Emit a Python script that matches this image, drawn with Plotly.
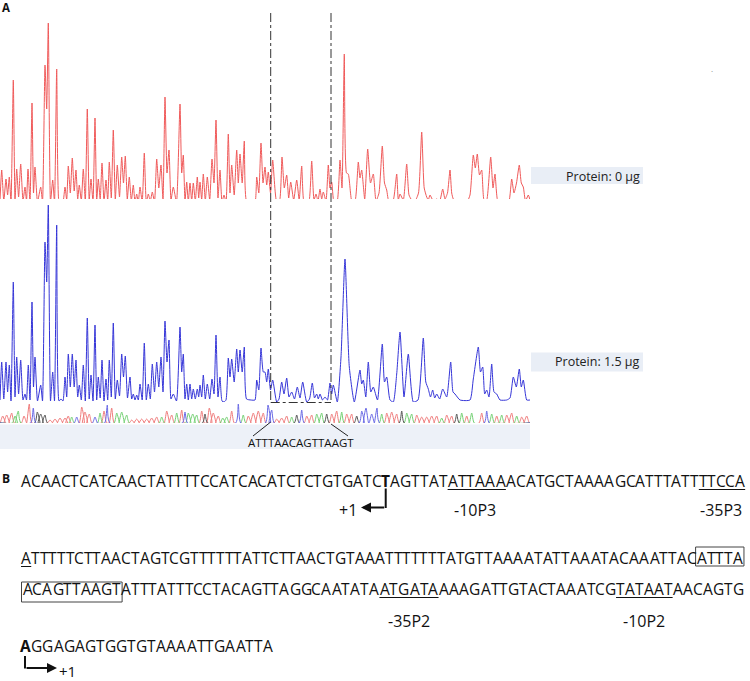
import plotly.graph_objects as go

W, H = 750, 681

# ---------------- data ----------------
# electropherogram, 0 ug protein (scan position, signal)
red_trace = [(0,3),(1.7,33),(3.8,2),(6,24),(7.6,8),(9.3,26),(11,1),(13.3,123),(15,3),(16.7,34),(18.6,6),(20.7,39),(23,2),(25,16),(26.5,2),(28,34),(30,1),(32,100),(33.5,10),(35,36),(37.5,1),(40.7,16),(42.5,1),(45,138),(46.7,94),(48.3,180),(50.5,1),(52.7,23),(54.5,1),(56.7,134),(59,1),(61,4),(63,1),(65,16),(66.7,3),(68.3,37),(70.3,10),(72.3,45),(74.2,12),(76,33),(77.7,4),(79.3,18),(81.3,2),(83.3,34),(85.3,1),(87.3,94),(89.2,3),(91,24),(93,1),(95,85),(96.7,2),(98.3,24),(100.2,4),(102,40),(104,1),(106,23),(107.7,2),(109.3,41),(111.3,5),(113.3,73),(115.3,3),(117.3,38),(119.5,6),(121.7,46),(123.5,20),(125.3,47),(127.3,4),(129.3,26),(131.3,2),(133.3,18),(135,1),(136.7,9),(138.3,1),(140,16),(142.2,1),(144.3,50),(146.3,1),(148.3,9),(150.3,2),(152.3,11),(154.5,1),(156.7,44),(158.8,15),(161,38),(163,3),(165,106),(167,30),(169,53),(171,3),(173.3,16),(176.5,1),(180,99),(181.7,30),(183.3,48),(185,2),(186.7,21),(188.3,1),(190,20),(191.7,2),(193.3,20),(195.3,2),(197.3,26),(198.7,5),(200,21),(201.7,3),(203.3,29),(205.3,2),(207.3,26),(209.7,3),(212,44),(214,20),(216,83),(218,5),(220,33),(222,1),(224,8),(226,1),(228.3,69),(230,10),(231.7,38),(234.2,8),(236.7,53),(238.3,20),(240,49),(242.2,20),(244.3,62),(246.5,2),(251,1),(255,1),(256.7,26),(258.8,10),(261,60),(263,20),(265,36),(266.7,18),(268.3,31),(270.5,10),(272.7,43),(276.7,1),(279.5,2),(282,46),(284.3,15),(286.7,28),(288.7,5),(290.7,21),(293.7,3),(296.7,23),(299.2,3),(301.7,37),(304,1),(306.7,1),(309,2),(311.7,42),(314,3),(316,9),(318,2),(320,14),(321.7,4),(323.3,11),(326,2),(328.3,38),(330,15),(331.7,21),(334,1),(337,1),(340,43),(342,15),(344.3,149),(346.5,30),(348.3,29),(352,1),(355,2),(358.3,41),(360,25),(361.7,33),(364.7,4),(367.7,54),(370.5,20),(373.3,29),(376,2),(379,10),(382.3,57),(384.5,20),(386.7,13),(389,1),(393,2),(396.7,29),(398.3,3),(400,9),(403.3,3),(406.7,39),(409,8),(411.7,3),(415,2),(418.5,10),(421.7,71),(424.2,15),(426.7,6),(428.3,3),(430,8),(433.3,2),(436.7,4),(439.7,2),(442.7,14),(445,4),(447.5,10),(450,33),(451.7,10),(453.3,4),(456.7,1),(460,3),(463,1),(467,1),(470,8),(473.3,48),(475.3,35),(477.3,49),(479.5,28),(481.7,33),(484,3),(486.5,2),(490.7,46),(493,15),(495,29),(497.5,3),(500,1),(503,2),(506.7,3),(509,2),(511.7,24),(514,10),(516.5,20),(519.3,38),(521.3,20),(523.3,16),(525.5,2),(528.3,8),(530,3)]

# electropherogram, 1.5 ug protein
blue_trace = [(0,2),(1.7,40),(3.8,3),(6,40),(7.6,10),(9.3,37),(11,1),(13.3,120),(15,5),(16.7,45),(18.6,8),(20.7,42),(23,2),(25,8),(26.5,2),(28.3,37),(30,2),(32,100),(33.5,15),(35,45),(37.5,1),(40.7,17),(42.5,1),(45,160),(46.7,120),(48.3,197),(50.5,1),(52.7,30),(54.5,1),(56.7,177),(59,1),(61,3),(63,1),(65,25),(66.7,5),(68.3,48),(70.3,15),(72.3,48),(74.2,15),(76,42),(77.7,5),(79.3,17),(81.3,2),(83.3,37),(85.3,1),(87.3,84),(89.2,3),(91,27),(93,1),(95,77),(96.7,2),(98.3,25),(100.2,4),(102,42),(104,1),(106,23),(107.7,2),(109.3,42),(111.3,5),(113.3,79),(115.3,3),(117.3,22),(119.5,6),(121.7,48),(123.5,25),(125.3,46),(127.5,4),(130,25),(131.7,3),(133.3,8),(135,2),(136.7,7),(138.3,2),(140,18),(142.2,2),(144.3,59),(146.3,2),(148.3,18),(150.3,3),(152.3,38),(154.5,10),(156.7,40),(158.8,15),(161,45),(163,10),(165,81),(167,40),(169,62),(171,3),(173.3,8),(176.5,1),(180,75),(181.7,30),(183.3,48),(185,3),(186.7,18),(188.3,2),(190,18),(191.7,3),(193.3,13),(195.3,3),(197.3,13),(198.7,5),(200,17),(201.7,5),(203.3,27),(205.3,3),(207.3,18),(209.7,3),(212,23),(214,8),(216,67),(218,5),(220,25),(222,1),(224,0),(226,2),(228.3,44),(230,25),(231.7,43),(234.2,20),(236.7,53),(238.3,30),(240,52),(242.2,30),(244.3,55),(246.5,3),(251,2),(255,2),(256.7,22),(258.8,12),(261,54),(263.3,30),(265,30),(266.7,20),(268.3,33),(270.5,12),(272.7,22),(276.7,0),(279,3),(281.7,20),(284,8),(286.7,24),(289,5),(291.7,10),(294.5,3),(297.3,15),(300,4),(302.7,20),(306.7,0),(309.5,3),(312.3,19),(314.5,4),(316.7,8),(318.3,3),(320,8),(322.5,2),(325,5),(327.5,2),(330,19),(331.7,8),(333.3,17),(337.3,0),(341,45),(345,143),(349.3,35),(354.3,0),(360,32),(361.7,18),(363.3,22),(365.8,5),(368.3,40),(370.8,10),(373.3,15),(377.5,2),(382.3,58),(384.5,20),(386.7,25),(390,2),(393.3,0),(396.7,28),(400,70),(404,5),(408.3,48),(413.3,0),(418,2),(423.3,64),(425.8,20),(428.3,13),(430.5,5),(432.7,12),(434.7,4),(436.7,8),(439.7,3),(442.7,13),(446.7,5),(450.7,40),(453,10),(455,8),(460,2),(470,2),(473.3,23),(478.3,55),(480.5,30),(482.7,35),(484.7,8),(486.7,12),(489,5),(491.7,38),(494,10),(496.7,8),(500,2),(506.7,2),(510,4),(513.3,25),(516.3,15),(519.3,33),(521.3,15),(523.3,22),(526.7,2),(530,2)]

# sequencing ladder peaks (position, height) per dye
ladder_red = [(2.7,7),(6.7,8),(11.7,10),(24,7),(29.3,19),(50,3),(55,4),(60,5),(65,5),(68.3,7),(81.7,16),(85,11),(89.3,9),(104,12),(111.7,15),(131.7,3),(136.7,4),(141.7,4),(146.7,4),(151.7,5),(156.7,6),(166.7,12),(171.7,8),(181.7,13),(201.7,12),(209.3,15),(213.3,10),(218.3,7),(231.7,12),(248.3,7),(253.3,10),(258.3,12),(263.3,10),(276.7,4),(281.7,5),(286.7,7),(306.7,7),(311.7,8),(331.7,9),(336.7,12),(346.7,9),(351.7,9),(386.7,10),(391.7,11),(396.7,9),(416.7,8),(421.7,6),(426.7,6),(431.7,7),(436.7,7),(446.7,8),(451.7,7),(466.7,7),(481.7,10),(496.7,7),(506.7,8),(511.7,10),(521.7,6),(526.7,7)]
ladder_green = [(15,7),(18.3,12),(71.7,6),(100,10),(116.7,10),(121.7,11),(126.7,8),(161.7,6),(176.7,10),(188.3,10),(192.7,9),(196.7,8),(222.7,5),(226.7,6),(243.3,8),(291.7,6),(316.7,9),(321.7,10),(341.7,11),(381.7,9),(406.7,10),(411.7,9),(441.7,5),(461.7,10),(471.7,10),(491.7,9),(501.7,8),(516.7,7)]
ladder_blue = [(33.3,15),(76.7,6),(95,6),(107.3,18),(185,11),(238.3,19),(268,18),(271.7,13),(301.7,13),(361.7,12),(366,15),(371.7,9),(377,15),(486.7,12)]
ladder_black = [(37.3,11),(40.7,9),(45,8),(205,9),(296.7,8),(326.7,9),(356.7,7),(401.7,12),(456.7,9)]

footprint = [270.7, 331.0]          # protected region (scan positions)
footprint_seq = "ATTTAACAGTTAAGT"
sample_labels = ["Protein: 0 µg", "Protein: 1.5 µg"]

seq_lines = [
    "ACAACTCATCAACTATTTTCCATCACATCTCTGTGATCTAGTTATATTAAAACATGCTAAAAGCATTTATTTTCCA",
    "ATTTTTCTTAACTAGTCGTTTTTTATTCTTAACTGTAAATTTTTTTATGTTAAAATATTAAATACAAATTACATTTA",
    "ACAGTTAAGTATTTATTTCCTACAGTTAGGCAATATAATGATAAAAGATTGTACTAAATCGTATAATAACAGTG",
    "AGGAGAGTGGTGTAAAATTGAATTA",
]
seq_bold = [[38], [], [], [0]]
seq_underline = [[(45, 51), (71, 76)], [(0, 1)], [(37, 43), (61, 67)], []]
seq_box = [[], [(72, 77)], [(0, 10)], []]
element_labels = [("-10P3", 0, 48), ("-35P3", 0, 73.5), ("-35P2", 2, 40), ("-10P2", 2, 64)]

# ---------------- layout helpers ----------------
def PX(x):
    return x / W

def PY(y):
    return 1 - y / H

XMAX = 530
fig = go.Figure()

def xy(pairs):
    return [p for p, _ in pairs], [v for _, v in pairs]

x, y = xy(red_trace)
fig.add_trace(go.Scatter(x=x, y=y, mode="lines", line=dict(color="#F05A5A", width=1, shape="spline", smoothing=0.5),
                         xaxis="x", yaxis="y"))
x, y = xy(blue_trace)
fig.add_trace(go.Scatter(x=x, y=y, mode="lines", line=dict(color="#3535D8", width=1, shape="spline", smoothing=0.5),
                         xaxis="x", yaxis="y2"))

def ladder(peaks):
    xs, ys = [0], [0]
    for p, h in peaks:
        xs += [p - 2.6, p, p + 2.6]
        ys += [0, h, 0]
    xs.append(XMAX); ys.append(0)
    return xs, ys

for peaks, col in [(ladder_red, "#F07C7C"), (ladder_green, "#72D072"),
                   (ladder_black, "#555555"), (ladder_blue, "#6A6AE6")]:
    lx, ly = ladder(peaks)
    fig.add_trace(go.Scatter(x=lx, y=ly, mode="lines", line=dict(color=col, width=1, shape="spline", smoothing=0.6),
                             xaxis="x", yaxis="y3"))

ax_off = dict(visible=False, showgrid=False, zeroline=False, fixedrange=True)
fig.update_layout(
    width=W, height=H, margin=dict(l=0, r=0, t=0, b=0),
    paper_bgcolor="white", plot_bgcolor="white", showlegend=False,
    font=dict(family="Open Sans", color="#111"),
    xaxis=dict(domain=[0, PX(XMAX)], range=[0, XMAX], anchor="y", **ax_off),
    yaxis=dict(domain=[PY(203), PY(0)], range=[0, 203], anchor="x", **ax_off),
    yaxis2=dict(domain=[PY(402), PY(199)], range=[0, 203], anchor="x", **ax_off),
    yaxis3=dict(domain=[PY(423), PY(400)], range=[0, 23], anchor="x", **ax_off),
)

shapes = []
annots = []

# grey band under ladder
shapes.append(dict(type="rect", xref="x", yref="paper", x0=0, x1=XMAX, y0=PY(449), y1=PY(424.5),
                   fillcolor="#EDF1F8", line=dict(width=0), layer="below"))
# footprint dash-dot lines
for fx in footprint:
    shapes.append(dict(type="line", xref="x", yref="paper", x0=fx, x1=fx, y0=PY(13), y1=PY(402.5),
                       line=dict(color="#333", width=1, dash="dashdot")))
shapes.append(dict(type="line", xref="x", yref="paper", x0=footprint[0], x1=footprint[1], y0=PY(402.5), y1=PY(402.5),
                   line=dict(color="#333", width=1, dash="dashdot")))
# leader lines to protected sequence label
shapes.append(dict(type="line", xref="x", yref="paper", x0=253, x1=footprint[0], y0=PY(436), y1=PY(422),
                   line=dict(color="#222", width=1)))
shapes.append(dict(type="line", xref="x", yref="paper", x0=348, x1=footprint[1], y0=PY(436), y1=PY(424),
                   line=dict(color="#222", width=1)))
annots.append(dict(text=footprint_seq, xref="x", yref="paper", x=301, y=PY(442), showarrow=False,
                   font=dict(size=11.5, color="#111"), xanchor="center", yanchor="middle"))

# sample label boxes
for lab, (y0, y1, yc) in zip(sample_labels, [(167, 184, 176.5), (352.5, 371.5, 361.5)]):
    shapes.append(dict(type="rect", xref="paper", yref="paper", x0=PX(531), x1=PX(643), y0=PY(y1), y1=PY(y0),
                       fillcolor="#E9EEF6", line=dict(width=0), layer="below"))
    annots.append(dict(text=lab, xref="paper", yref="paper", x=PX(642), y=PY(yc), showarrow=False,
                       xanchor="right", yanchor="middle", font=dict(size=12.5, color="#222")))

# panel letters
annots.append(dict(text="<b>A</b>", xref="paper", yref="paper", x=PX(5.5), y=PY(7.5), showarrow=False,
                   xanchor="center", yanchor="middle", font=dict(size=11.5, color="#111")))
annots.append(dict(text="<b>B</b>", xref="paper", yref="paper", x=PX(5.5), y=PY(478), showarrow=False,
                   xanchor="center", yanchor="middle", font=dict(size=12, color="#111")))
annots.append(dict(text=".", xref="paper", yref="paper", x=PX(715), y=PY(61), showarrow=False,
                   font=dict(size=8, color="#888")))

# ---------------- sequence panel ----------------
CAL = {"A": .579, "C": .533, "G": .631, "T": .487}
CAL_B = {"A": .606, "C": .529, "G": .667, "T": .495}
EM = 17.7
line_y = [480.5, 557.5, 589, 646]          # cap centers
line_x0 = [21, 21, 22.5, 20.5]
under_y = [489.5, 566.5, 597.5, 655]
box_y = [None, (547, 566), (582, 602), None]
label_y = {0: 510, 2: 621}

cells = []
for li, s in enumerate(seq_lines):
    xpos = line_x0[li]
    row = []
    for i, ch in enumerate(s):
        bold = i in seq_bold[li]
        w = (CAL_B if bold else CAL)[ch] * EM
        row.append((xpos, xpos + w))
        annots.append(dict(text=f"<b>{ch}</b>" if bold else ch, xref="paper", yref="paper",
                           x=PX(xpos + w / 2), y=PY(line_y[li]), showarrow=False,
                           xanchor="center", yanchor="middle", font=dict(size=15.5, color="#111")))
        xpos += w
    cells.append(row)
    for a, b in seq_underline[li]:
        shapes.append(dict(type="line", xref="paper", yref="paper", x0=PX(row[a][0]), x1=PX(row[b - 1][1]),
                           y0=PY(under_y[li]), y1=PY(under_y[li]), line=dict(color="#111", width=1)))
    for a, b in seq_box[li]:
        y0, y1 = box_y[li]
        shapes.append(dict(type="rect", xref="paper", yref="paper", x0=PX(row[a][0] - 1), x1=PX(row[b - 1][1] + 1),
                           y0=PY(y1), y1=PY(y0), line=dict(color="#444", width=1)))

for txt, li, cidx in element_labels:
    i0 = int(cidx)
    cx = cells[li][i0][0] + (cidx - i0) * (cells[li][i0][1] - cells[li][i0][0])
    annots.append(dict(text=txt, xref="paper", yref="paper", x=PX(cx), y=PY(label_y[li]), showarrow=False,
                       xanchor="center", yanchor="middle", font=dict(size=16, color="#111")))

# transcription start arrows
t_cell = cells[0][38]
tx = (t_cell[0] + t_cell[1]) / 2
shapes.append(dict(type="line", xref="paper", yref="paper", x0=PX(tx), x1=PX(tx), y0=PY(488.5), y1=PY(508),
                   line=dict(color="#111", width=2)))
annots.append(dict(text="", xref="paper", yref="paper", x=PX(361), y=PY(507.5), ax=tx - 361, ay=0,
                   showarrow=True, arrowhead=2, arrowsize=1, arrowwidth=2, arrowcolor="#111"))
annots.append(dict(text="+1", xref="paper", yref="paper", x=PX(358.5), y=PY(510), showarrow=False,
                   xanchor="right", yanchor="middle", font=dict(size=16, color="#111")))

a_cell = cells[3][0]
ax0 = a_cell[0] + 4.5
shapes.append(dict(type="line", xref="paper", yref="paper", x0=PX(ax0), x1=PX(ax0), y0=PY(656), y1=PY(668.5),
                   line=dict(color="#111", width=2)))
annots.append(dict(text="", xref="paper", yref="paper", x=PX(57), y=PY(668), ax=ax0 - 57, ay=0,
                   showarrow=True, arrowhead=2, arrowsize=1, arrowwidth=2, arrowcolor="#111"))
annots.append(dict(text="+1", xref="paper", yref="paper", x=PX(57), y=PY(670.5), showarrow=False,
                   xanchor="left", yanchor="middle", font=dict(size=15, color="#111")))

fig.update_layout(shapes=shapes, annotations=annots)
fig.write_html("out.html", config={"displayModeBar": False},
               post_script="document.body.style.margin='0px';document.body.style.overflow='hidden';")
